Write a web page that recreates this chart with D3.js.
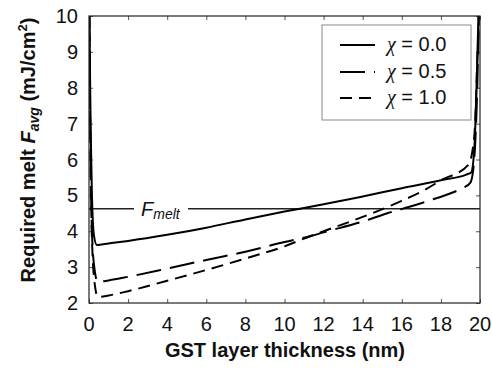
<!DOCTYPE html>
<html>
<head>
<meta charset="utf-8">
<script src="https://cdn.jsdelivr.net/npm/d3@7"></script>
<style>
  body { margin: 0; background: #fff; }
  text { font-family: "Liberation Sans", Arial, sans-serif; }
</style>
</head>
<body>
<svg id="chart" width="492" height="370"></svg>
<script>
// thickness (nm) / required melt fluence (mJ/cm^2)
const chi0X = [0.02, 0.08, 0.15, 0.25, 0.4, 1, 2, 4, 6, 8, 10, 12, 14, 16, 18, 19.3, 19.55, 19.72, 19.82, 19.92];
const chi0Y = [10, 7, 5, 3.9, 3.62, 3.66, 3.73, 3.9, 4.1, 4.33, 4.55, 4.75, 4.97, 5.2, 5.42, 5.58, 5.64, 6.4, 8, 10];

const chi05X = [0.02, 0.08, 0.15, 0.27, 0.45, 1, 2, 4, 6, 8, 10, 11.3, 12, 14, 15.3, 16.7, 17.2, 18.7, 19.1, 19.5, 19.65, 19.76, 19.86, 19.94];
const chi05Y = [10, 6, 4, 3, 2.59, 2.63, 2.73, 2.96, 3.2, 3.43, 3.7, 3.86, 3.97, 4.27, 4.51, 4.73, 4.82, 5.1, 5.2, 5.35, 5.7, 6.5, 8, 10];

const chi1X = [0.02, 0.08, 0.15, 0.3, 0.45, 1, 2, 4, 6, 8, 10, 11.3, 12, 14, 15.3, 16, 17, 18, 19.4, 19.6, 19.75, 19.88, 19.96];
const chi1Y = [10, 6, 3.8, 2.5, 2.17, 2.21, 2.33, 2.62, 2.92, 3.24, 3.58, 3.86, 4.0, 4.4, 4.68, 4.85, 5.1, 5.42, 5.85, 6.2, 7, 9, 10];

const fMelt = 4.63;
const xTicks = [0, 2, 4, 6, 8, 10, 12, 14, 16, 18, 20];
const yTicks = [2, 3, 4, 5, 6, 7, 8, 9, 10];
const legendLabels = ["0.0", "0.5", "1.0"];

const series = [
  {xs: chi0X, ys: chi0Y, dash: null},
  {xs: chi05X, ys: chi05Y, dash: "25,9"},
  {xs: chi1X, ys: chi1Y, dash: "12,7"}
];

const svg = d3.select("#chart");
const plotL = 89, plotR = 480, plotT = 16, plotB = 303;

const x = d3.scaleLinear().domain([0, 20]).range([plotL, plotR]);
const y = d3.scaleLinear().domain([2, 10]).range([plotB, plotT]);

svg.append("defs").append("clipPath").attr("id", "plotClip")
  .append("rect")
  .attr("x", plotL).attr("y", plotT)
  .attr("width", plotR - plotL).attr("height", plotB - plotT);

// inward ticks on all four sides
const tickLen = 4;
svg.append("g").attr("transform", `translate(0,${plotB})`)
  .call(d3.axisTop(x).tickValues(xTicks).tickSize(tickLen).tickFormat(""))
  .call(g => g.select(".domain").remove());
svg.append("g").attr("transform", `translate(0,${plotT})`)
  .call(d3.axisBottom(x).tickValues(xTicks).tickSize(tickLen).tickFormat(""))
  .call(g => g.select(".domain").remove());
svg.append("g").attr("transform", `translate(${plotL},0)`)
  .call(d3.axisRight(y).tickValues(yTicks).tickSize(tickLen).tickFormat(""))
  .call(g => g.select(".domain").remove());
svg.append("g").attr("transform", `translate(${plotR},0)`)
  .call(d3.axisLeft(y).tickValues(yTicks).tickSize(tickLen).tickFormat(""))
  .call(g => g.select(".domain").remove());
svg.selectAll(".tick line").attr("stroke", "#555");

// tick labels
svg.append("g").selectAll("text")
  .data(xTicks).enter().append("text")
  .attr("x", d => x(d)).attr("y", 331)
  .attr("text-anchor", "middle")
  .attr("font-size", "20px").attr("fill", "#111")
  .text(d => d);

svg.append("g").selectAll("text")
  .data(yTicks).enter().append("text")
  .attr("x", 78).attr("y", d => y(d) + 7)
  .attr("text-anchor", "end")
  .attr("font-size", "20px").attr("fill", "#111")
  .text(d => d);

// Fmelt line with a gap for its label
svg.append("line")
  .attr("x1", plotL).attr("x2", 134)
  .attr("y1", y(fMelt)).attr("y2", y(fMelt))
  .attr("stroke", "#222").attr("stroke-width", 1.5);
svg.append("line")
  .attr("x1", 188).attr("x2", plotR)
  .attr("y1", y(fMelt)).attr("y2", y(fMelt))
  .attr("stroke", "#222").attr("stroke-width", 1.5);
const fm = svg.append("text")
  .attr("x", 141).attr("y", y(fMelt) + 7)
  .attr("font-size", "20px").attr("font-style", "italic").attr("fill", "#111");
fm.append("tspan").text("F");
fm.append("tspan").attr("font-size", "14px").attr("dy", 3).text("melt");

// curves
const line = d3.line()
  .x(d => x(d[0]))
  .y(d => y(d[1]))
  .curve(d3.curveMonotoneX);

svg.append("g").attr("clip-path", "url(#plotClip)")
  .selectAll("path")
  .data(series).enter().append("path")
  .attr("d", s => line(s.xs.map((v, i) => [v, s.ys[i]])))
  .attr("fill", "none")
  .attr("stroke", "#000")
  .attr("stroke-width", 2)
  .attr("stroke-dasharray", s => s.dash);

// plot frame
svg.append("rect")
  .attr("x", plotL).attr("y", plotT)
  .attr("width", plotR - plotL).attr("height", plotB - plotT)
  .attr("fill", "none").attr("stroke", "#222").attr("stroke-width", 1.2);

// legend
const lg = svg.append("g");
lg.append("rect")
  .attr("x", 322).attr("y", 25).attr("width", 149).attr("height", 95)
  .attr("fill", "#fff").attr("stroke", "#888").attr("stroke-width", 1);
const rowY = [45, 72, 98];
series.forEach((s, i) => {
  lg.append("line")
    .attr("x1", 340).attr("x2", 375)
    .attr("y1", rowY[i]).attr("y2", rowY[i])
    .attr("stroke", "#000").attr("stroke-width", 2)
    .attr("stroke-dasharray", s.dash);
  const t = lg.append("text")
    .attr("x", 387).attr("y", rowY[i] + 6)
    .attr("font-size", "20px").attr("fill", "#111");
  t.append("tspan")
    .attr("font-family", "'Liberation Serif', 'DejaVu Serif', serif")
    .attr("font-style", "italic").attr("font-size", "20px").text("\u03c7");
  t.append("tspan").text(" = " + legendLabels[i]);
});

// axis titles
svg.append("text")
  .attr("x", 285).attr("y", 357)
  .attr("text-anchor", "middle")
  .attr("font-size", "20px").attr("font-weight", "bold").attr("fill", "#111")
  .text("GST layer thickness (nm)");

const yt = svg.append("text")
  .attr("transform", "translate(35,150) rotate(-90)")
  .attr("text-anchor", "middle")
  .attr("font-size", "20px").attr("font-weight", "bold").attr("fill", "#111");
yt.append("tspan").text("Required melt ");
yt.append("tspan").attr("font-style", "italic").text("F");
yt.append("tspan").attr("font-style", "italic").attr("font-size", "14px").attr("dy", 4).text("avg");
yt.append("tspan").attr("dy", -4).text(" (mJ/cm");
yt.append("tspan").attr("font-size", "13px").attr("dy", -8).text("2");
yt.append("tspan").attr("dy", 8).text(")");
</script>
</body>
</html>
